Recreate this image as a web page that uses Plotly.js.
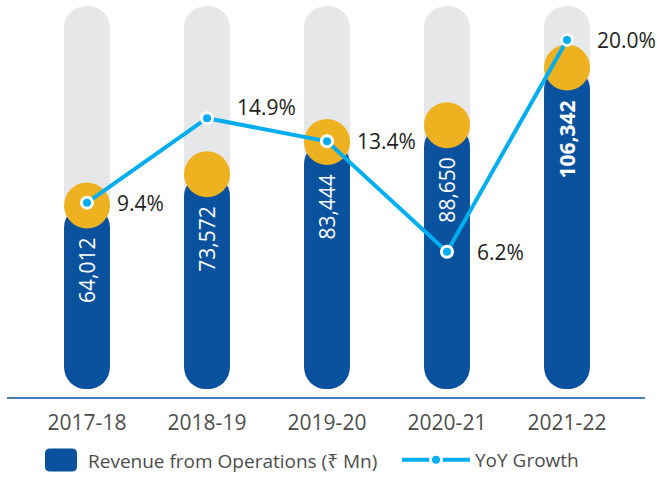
<!DOCTYPE html>
<html>
<head>
<meta charset="utf-8">
<script src="https://cdn.plot.ly/plotly-3.0.1.min.js"></script>
<style>html,body{margin:0;padding:0;background:#fff;}#chart{width:657px;height:479px;}</style>
</head>
<body>
<div id="chart"></div>
<script>
// ---- data ----
const years = ['2017-18', '2018-19', '2019-20', '2020-21', '2021-22'];
const revenue = [64012, 73572, 83444, 88650, 106342];
const yoyGrowth = [9.4, 14.9, 13.4, 6.2, 20.0];
const revenueName = 'Revenue from Operations (₹ Mn)';
const growthName = 'YoY Growth';

// ---- style ----
const BLUE = '#0B529E', YELLOW = '#EEB220', GREY = '#E6E7E8', CYAN = '#00AEEF';
const FONT = 'Open Sans, Noto Sans, DejaVu Sans, sans-serif';
const TRACK_TOP = 125200, TRACK_BOTTOM = 7670, TRACK_MID = 60000;
const BAR_W = 0.383;

const n = years.length;
const fill = v => years.map(() => v);

const traces = [
  { // grey track, upper half (rounded top)
    type: 'bar', x: years, y: fill(TRACK_TOP - TRACK_MID), base: fill(TRACK_MID),
    width: BAR_W, marker: {color: GREY, cornerradius: '50%'}, showlegend: false, hoverinfo: 'skip'
  },
  { // grey track, lower half (rounded bottom)
    type: 'bar', x: years, y: fill(TRACK_BOTTOM - TRACK_MID), base: fill(TRACK_MID),
    width: BAR_W, marker: {color: GREY, cornerradius: '50%'}, showlegend: false, hoverinfo: 'skip'
  },
  { // revenue bar, drawn from value down to rounded bottom
    type: 'bar', name: revenueName, x: years, y: revenue.map(v => TRACK_BOTTOM - v), base: revenue,
    width: BAR_W, marker: {color: BLUE, cornerradius: '50%'}, showlegend: false, hoverinfo: 'skip'
  },
  { // yellow caps
    type: 'scatter', mode: 'markers', x: years, y: revenue,
    marker: {size: 46, color: YELLOW}, showlegend: false, hoverinfo: 'skip'
  },
  {
    type: 'scatter', mode: 'lines+markers', name: growthName, x: years, y: yoyGrowth, yaxis: 'y2',
    line: {color: CYAN, width: 4},
    marker: {size: 11, color: CYAN, line: {color: '#ffffff', width: 3}}, hoverinfo: 'skip'
  }
];

const annotations = [];
revenue.forEach((v, i) => {
  const txt = v.toLocaleString('en-US');
  annotations.push({
    x: years[i], y: v, xref: 'x', yref: 'y', text: i === n - 1 ? '<b>' + txt + '</b>' : txt,
    textangle: -90, showarrow: false, xanchor: 'center', yanchor: 'top', yshift: -31,
    font: {family: FONT, size: 21, color: '#ffffff'}
  });
});
yoyGrowth.forEach((v, i) => {
  annotations.push({
    x: years[i], y: v, xref: 'x', yref: 'y2', text: v.toFixed(1) + '%',
    showarrow: false, xanchor: 'left', yanchor: 'middle', xshift: 28, yshift: (i === 1 ? 11 : 0),
    font: {family: FONT, size: 21, color: '#231F20'}
  });
});

// legend entry for the revenue bars (large rounded swatch, like the original)
const PLOT_L = 7, PLOT_W = 638, PLOT_H = 400;
const px2x = p => (p - PLOT_L) / PLOT_W;
const py2y = p => (PLOT_H - p) / PLOT_H;
annotations.push({
  xref: 'paper', yref: 'paper', x: px2x(86), y: py2y(464), xanchor: 'left', yanchor: 'middle',
  text: revenueName, showarrow: false, font: {family: FONT, size: 19, color: '#4D4D4D'}
});
const shapes = [{
  type: 'path', xref: 'paper', yref: 'paper', xsizemode: 'pixel', ysizemode: 'pixel',
  xanchor: px2x(61), yanchor: py2y(463.5),
  path: 'M-16,-6.5 Q-16,-11.5 -11,-11.5 L11,-11.5 Q16,-11.5 16,-6.5 L16,6.5 Q16,11.5 11,11.5 L-11,11.5 Q-16,11.5 -16,6.5 Z',
  fillcolor: BLUE, line: {width: 0}
}];

const layout = {
  width: 657, height: 479,
  margin: {l: PLOT_L, r: 657 - PLOT_L - PLOT_W, t: 0, b: 479 - PLOT_H},
  paper_bgcolor: '#ffffff', plot_bgcolor: '#ffffff',
  barmode: 'overlay',
  font: {family: FONT, color: '#4D4D4D'},
  xaxis: {
    type: 'category', range: [-0.6667, 4.65], showgrid: false, zeroline: false,
    showline: true, linecolor: '#4A7EBB', linewidth: 2, ticks: '', ticklabelstandoff: 6,
    tickfont: {family: FONT, size: 21, color: '#4D4D4D'}, fixedrange: true
  },
  yaxis: {range: [5237, 127040], visible: false, showgrid: false, zeroline: false, fixedrange: true},
  yaxis2: {range: [-3.26, 22.6], overlaying: 'y', visible: false, showgrid: false, zeroline: false, fixedrange: true},
  showlegend: true,
  legend: {
    orientation: 'h', x: px2x(397), xanchor: 'left', y: py2y(463.5), yanchor: 'middle',
    font: {family: FONT, size: 19, color: '#4D4D4D'}, itemwidth: 68
  },
  annotations: annotations,
  shapes: shapes,
  hovermode: false
};

Plotly.newPlot('chart', traces, layout, {displayModeBar: false, staticPlot: true});
</script>
</body>
</html>
